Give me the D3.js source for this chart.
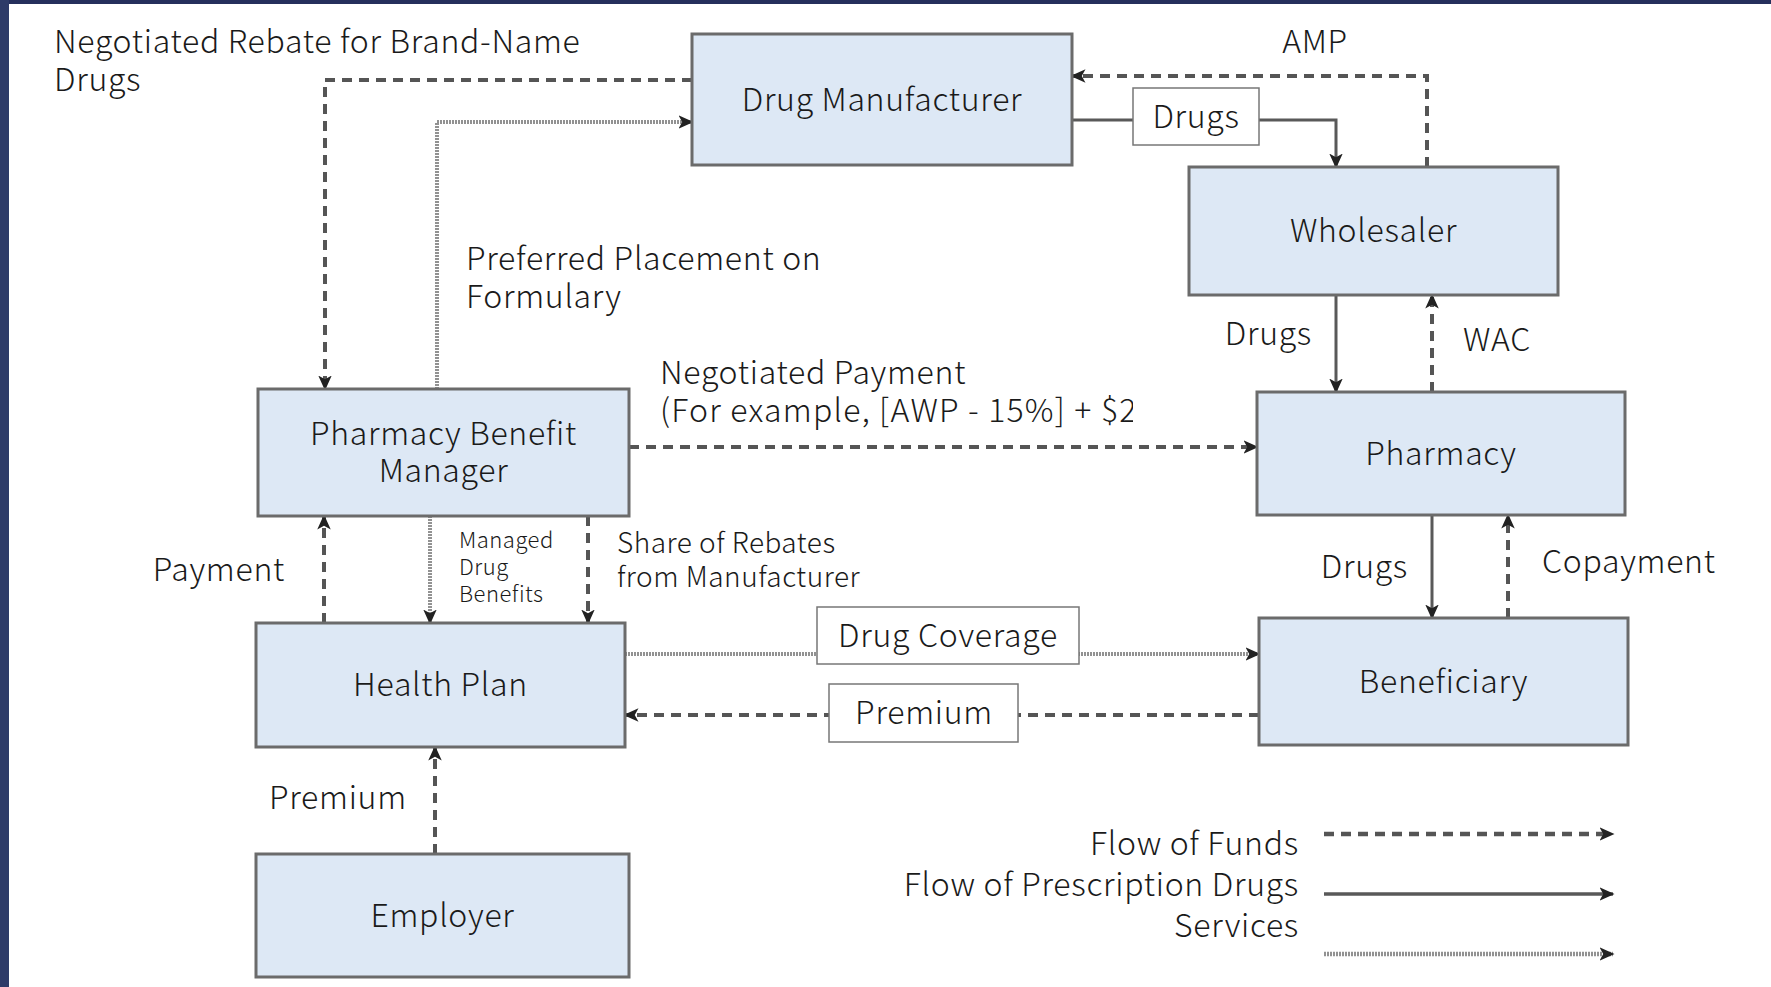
<!DOCTYPE html>
<html>
    <head>
        <script src="https://cdnjs.cloudflare.com/ajax/libs/d3/7.8.5/d3.min.js"></script>
        <title>Prescription Drug Flows</title>
        <style>
            html, body {
                margin: 0;
                height: 100%;
                background-color: #ffffff;
            }
            .svg_canvas {
                display: block;
            }
            text {
                font-family: "Noto Sans CJK JP", "Noto Sans", sans-serif;
                font-weight: 300;
                letter-spacing: 0.7px;
                fill: #1a1a1a;
            }
        </style>
    </head>
    <body>
        <svg width="1771" height="987" class="svg_canvas"></svg>

        <script>
            // entities in the diagram
            var nodeNames = ["Drug Manufacturer", "Wholesaler", "Pharmacy Benefit|Manager",
                             "Pharmacy", "Health Plan", "Beneficiary", "Employer"];

            // flows: from, to, type, label
            var flowFrom  = ["Drug Manufacturer", "Wholesaler", "Drug Manufacturer", "Pharmacy Benefit|Manager",
                             "Wholesaler", "Pharmacy", "Pharmacy Benefit|Manager", "Pharmacy", "Beneficiary",
                             "Health Plan", "Pharmacy Benefit|Manager", "Pharmacy Benefit|Manager",
                             "Health Plan", "Beneficiary", "Employer"];
            var flowTo    = ["Pharmacy Benefit|Manager", "Drug Manufacturer", "Wholesaler", "Drug Manufacturer",
                             "Pharmacy", "Wholesaler", "Pharmacy", "Beneficiary", "Pharmacy",
                             "Pharmacy Benefit|Manager", "Health Plan", "Health Plan",
                             "Beneficiary", "Health Plan", "Health Plan"];
            var flowTypes = ["funds", "funds", "drugs", "services",
                             "drugs", "funds", "funds", "drugs", "funds",
                             "funds", "services", "funds",
                             "services", "funds", "funds"];
            var flowLabels = ["Negotiated Rebate for Brand-Name|Drugs", "AMP", "Drugs", "Preferred Placement on|Formulary",
                              "Drugs", "WAC", "Negotiated Payment|(For example, [AWP - 15%] + $2", "Drugs", "Copayment",
                              "Payment", "Managed|Drug|Benefits", "Share of Rebates|from Manufacturer",
                              "Drug Coverage", "Premium", "Premium"];

            var legendLabels = ["Flow of Funds", "Flow of Prescription Drugs", "Services"];
            var legendTypes  = ["funds", "drugs", "services"];

            // ---- layout (pixels) ----
            var boxes = {
                "Drug Manufacturer":        [692, 34, 1072, 165],
                "Wholesaler":               [1189, 167, 1558, 295],
                "Pharmacy Benefit|Manager": [258, 389, 629, 516],
                "Pharmacy":                 [1257, 392, 1625, 515],
                "Health Plan":              [256, 623, 625, 747],
                "Beneficiary":              [1259, 618, 1628, 745],
                "Employer":                 [256, 854, 629, 977]
            };

            // route of each flow, label position and whether label is boxed
            var routes = [
                { pts: [[692, 80], [325, 80], [325, 389]], lx: 54, ly: 39, anchor: "start" },
                { pts: [[1427, 167], [1427, 76], [1072, 76]], lx: 1315, ly: 39, anchor: "middle" },
                { pts: [[1072, 120], [1336, 120], [1336, 167]], lx: 1196, ly: 114, anchor: "middle", box: [1133, 88, 1259, 145] },
                { pts: [[437, 389], [437, 122], [692, 122]], lx: 466, ly: 256, anchor: "start" },
                { pts: [[1336, 295], [1336, 392]], lx: 1312, ly: 331, anchor: "end" },
                { pts: [[1432, 392], [1432, 295]], lx: 1463, ly: 337, anchor: "start" },
                { pts: [[629, 447], [1257, 447]], lx: 660, ly: 370, anchor: "start", clip: 1133 },
                { pts: [[1432, 515], [1432, 618]], lx: 1408, ly: 564, anchor: "end" },
                { pts: [[1508, 618], [1508, 515]], lx: 1542, ly: 559, anchor: "start" },
                { pts: [[324, 623], [324, 516]], lx: 285, ly: 567, anchor: "end" },
                { pts: [[430, 516], [430, 623]], lx: 459, ly: 538, anchor: "start", size: 22, gap: 27 },
                { pts: [[588, 516], [588, 623]], lx: 617, ly: 541, anchor: "start", size: 28, gap: 34 },
                { pts: [[625, 654], [1259, 654]], lx: 948, ly: 633, anchor: "middle", box: [817, 607, 1079, 664] },
                { pts: [[1259, 715], [625, 715]], lx: 924, ly: 710, anchor: "middle", box: [829, 684, 1018, 742] },
                { pts: [[435, 854], [435, 747]], lx: 269, ly: 795, anchor: "start" }
            ];

            var lineColor = d3.scaleOrdinal()
                .domain(["funds", "drugs", "services"])
                .range(["#555555", "#595959", "#929292"]);
            var lineDash = d3.scaleOrdinal()
                .domain(["funds", "drugs", "services"])
                .range(["10,7", null, "2,1"]);
            var lineWidth = d3.scaleOrdinal()
                .domain(["funds", "drugs", "services"])
                .range([4, 3, 4]);

            var svg = d3.select(".svg_canvas");

            // navy frame
            svg.append("rect").attr("x", 0).attr("y", 0).attr("width", 1771).attr("height", 4).attr("fill", "#252f5c");
            svg.append("rect").attr("x", 0).attr("y", 0).attr("width", 9).attr("height", 987).attr("fill", "#2e3b68");

            var defs = svg.append("defs");
            defs.append("marker")
                .attr("id", "arrow")
                .attr("viewBox", "0 0 10 10")
                .attr("refX", 9).attr("refY", 5)
                .attr("markerUnits", "userSpaceOnUse")
                .attr("markerWidth", 15).attr("markerHeight", 15)
                .attr("orient", "auto")
                .append("path")
                .attr("d", "M0,0.5 L10,5 L0,9.5 L2.5,5 Z")
                .attr("fill", "#222");

            defs.append("clipPath").attr("id", "clipPay")
                .append("rect").attr("x", 0).attr("y", 0).attr("width", 1133).attr("height", 987);

            var line = d3.line();

            // flow lines
            var flows = flowLabels.map(function(l, i) {
                return { from: flowFrom[i], to: flowTo[i], type: flowTypes[i], label: l, r: routes[i] };
            });

            svg.append("g").selectAll("path")
                .data(flows)
                .enter()
                .append("path")
                .attr("d", function(d) { return line(d.r.pts); })
                .attr("fill", "none")
                .attr("stroke", function(d) { return lineColor(d.type); })
                .attr("stroke-width", function(d) { return lineWidth(d.type); })
                .attr("stroke-dasharray", function(d) { return lineDash(d.type); })
                .attr("marker-end", "url(#arrow)");

            // entity boxes
            var nodeG = svg.append("g").selectAll("g")
                .data(nodeNames)
                .enter()
                .append("g");

            nodeG.append("rect")
                .attr("x", function(d) { return boxes[d][0]; })
                .attr("y", function(d) { return boxes[d][1]; })
                .attr("width", function(d) { return boxes[d][2] - boxes[d][0]; })
                .attr("height", function(d) { return boxes[d][3] - boxes[d][1]; })
                .attr("fill", "#dde8f5")
                .attr("stroke", "#6b6b6b")
                .attr("stroke-width", 3);

            nodeG.each(function(d) {
                var b = boxes[d];
                var lines = d.split("|");
                var cx = (b[0] + b[2]) / 2, cy = (b[1] + b[3]) / 2 - 3;
                var t = d3.select(this).append("text")
                    .attr("text-anchor", "middle")
                    .style("font-size", "32px");
                lines.forEach(function(s, k) {
                    t.append("tspan")
                        .attr("x", cx)
                        .attr("y", cy + (k - (lines.length - 1) / 2) * 37)
                        .attr("dominant-baseline", "central")
                        .text(s);
                });
            });

            // label boxes on some flows
            svg.append("g").selectAll("rect")
                .data(flows.filter(function(d) { return d.r.box; }))
                .enter()
                .append("rect")
                .attr("x", function(d) { return d.r.box[0]; })
                .attr("y", function(d) { return d.r.box[1]; })
                .attr("width", function(d) { return d.r.box[2] - d.r.box[0]; })
                .attr("height", function(d) { return d.r.box[3] - d.r.box[1]; })
                .attr("fill", "#ffffff")
                .attr("stroke", "#777")
                .attr("stroke-width", 1.5);

            // flow labels
            var labelG = svg.append("g").selectAll("text")
                .data(flows)
                .enter()
                .append("text")
                .attr("text-anchor", function(d) { return d.r.anchor; })
                .attr("clip-path", function(d) { return d.r.clip ? "url(#clipPay)" : null; })
                .style("font-size", function(d) { return (d.r.size || 32) + "px"; })
                .style("letter-spacing", function(d) { return d.r.size ? "0.5px" : null; });

            labelG.each(function(d) {
                var lines = d.label.split("|");
                var gap = d.r.gap || 38;
                var t = d3.select(this);
                lines.forEach(function(s, k) {
                    t.append("tspan")
                        .attr("x", d.r.lx)
                        .attr("y", d.r.ly + k * gap)
                        .attr("dominant-baseline", "central")
                        .style("letter-spacing", d.r.clip && k === 1 ? "1.2px" : null)
                        .text(s);
                });
            });

            // legend
            var legX = d3.scalePoint().domain(legendTypes).range([834, 954]);
            var legTextY = d3.scalePoint().domain(legendTypes).range([841, 923]);

            var leg = svg.append("g").selectAll("g")
                .data(legendTypes)
                .enter()
                .append("g");

            leg.append("text")
                .attr("x", 1299)
                .attr("y", function(d) { return legTextY(d); })
                .attr("text-anchor", "end")
                .attr("dominant-baseline", "central")
                .style("font-size", "32px")
                .text(function(d, i) { return legendLabels[i]; });

            leg.append("path")
                .attr("d", function(d) { return line([[1324, legX(d)], [1613, legX(d)]]); })
                .attr("fill", "none")
                .attr("stroke", function(d) { return lineColor(d); })
                .attr("stroke-width", function(d) { return lineWidth(d) + 0.5; })
                .attr("stroke-dasharray", function(d) { return lineDash(d); })
                .attr("marker-end", "url(#arrow)");
        </script>
    </body>
</html>
